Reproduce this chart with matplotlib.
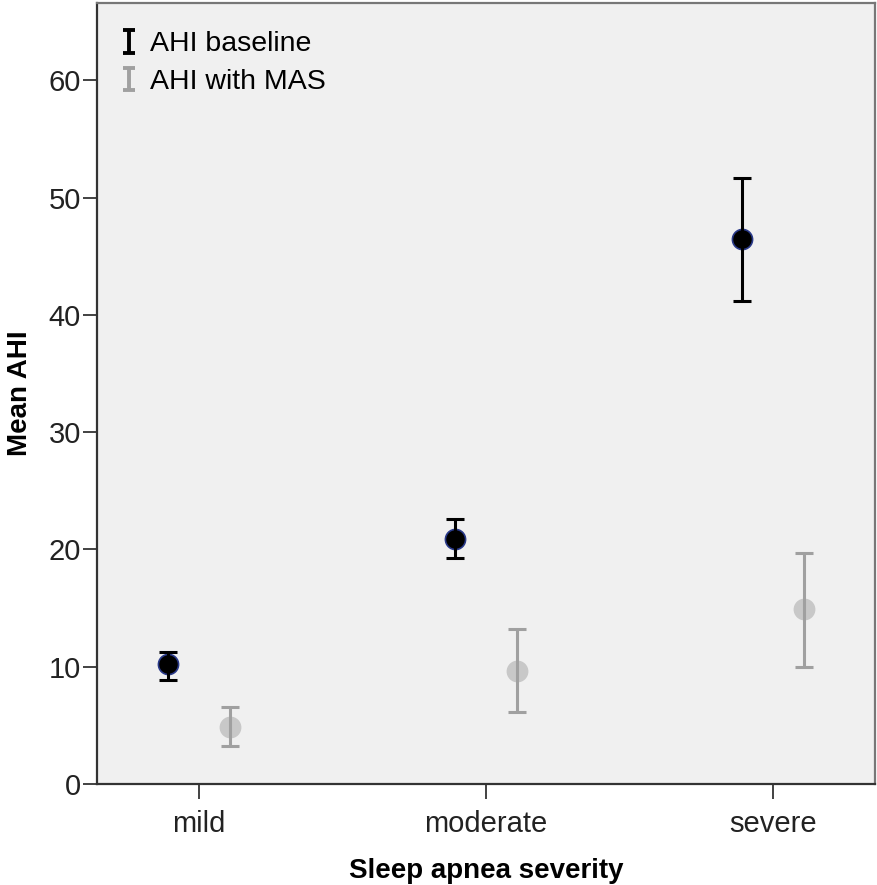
import matplotlib
matplotlib.use("Agg")
import matplotlib.pyplot as plt
import numpy as np
from matplotlib.legend_handler import HandlerErrorbar

plt.rcParams["font.family"] = ["Liberation Sans", "DejaVu Sans"]

categories = ["mild", "moderate", "severe"]

# AHI baseline: mean, lower and upper bound of the error bar
base_mean = [10.2, 20.9, 46.5]
base_low = [8.9, 19.3, 41.2]
base_high = [11.3, 22.6, 51.7]

# AHI with MAS
mas_mean = [4.9, 9.6, 14.9]
mas_low = [3.2, 6.1, 10.0]
mas_high = [6.6, 13.2, 19.7]

y_ticks = [0, 10, 20, 30, 40, 50, 60]

BASE_COL = "black"
MAS_COL = "#a0a0a0"
OFFSET = 0.107

fig = plt.figure(figsize=(8.77, 8.85), dpi=100)
ax = fig.add_axes([0.1106, 0.1141, 0.8871, 0.8825])
ax.set_facecolor("#f0f0f0")

x = np.arange(len(categories))


def draw(xpos, mean, low, high, col, mface, medge):
    mean = np.array(mean)
    err = [mean - np.array(low), np.array(high) - mean]
    ax.plot(xpos, mean, "o", ms=14.5, mfc=mface, mec=medge, mew=1.2, zorder=2)
    ax.errorbar(xpos, mean, yerr=err, fmt="none", ecolor=col,
                elinewidth=2.2, capsize=6.5, capthick=2.2, zorder=3)


draw(x - OFFSET, base_mean, base_low, base_high, BASE_COL, "black", "#2a3a8a")
draw(x + OFFSET, mas_mean, mas_low, mas_high, MAS_COL, "#c8c8c8", "#c8c8c8")

# legend-only handles: small "I" symbols
h1 = ax.errorbar([np.nan], [np.nan], yerr=[1], fmt="none", ecolor=BASE_COL,
                 elinewidth=2.8, capsize=4.5, capthick=2.8, label="AHI baseline")
h2 = ax.errorbar([np.nan], [np.nan], yerr=[1], fmt="none", ecolor=MAS_COL,
                 elinewidth=2.8, capsize=4.5, capthick=2.8, label="AHI with MAS")

ax.set_xlim(-0.355, 2.355)
ax.set_ylim(0, 66.6)
ax.set_xticks(x)
ax.set_xticklabels(categories)
ax.set_yticks(y_ticks)

ax.tick_params(axis="x", length=11, width=1.2, pad=8, labelsize=21, colors="#222222")
ax.tick_params(axis="y", length=10, width=1.2, pad=1.5, labelsize=21, colors="#222222")

for side in ["left", "bottom"]:
    ax.spines[side].set_color("#333333")
    ax.spines[side].set_linewidth(1.6)
for side in ["top", "right"]:
    ax.spines[side].set_color("#777777")
    ax.spines[side].set_linewidth(1.6)

ax.set_xlabel("Sleep apnea severity", fontsize=20, fontweight="bold", labelpad=14)
ax.set_ylabel("Mean AHI", fontsize=20, fontweight="bold", labelpad=11)

leg = ax.legend(handles=[h1, h2], loc="upper left", bbox_to_anchor=(-0.005, 1.0),
                frameon=False, fontsize=20.5,
                handlelength=0.5, handletextpad=0.5, borderaxespad=0.6,
                labelspacing=0.4,
                handler_map={type(h1): HandlerErrorbar(yerr_size=0.4)})

fig.savefig("out.png", dpi=100)
